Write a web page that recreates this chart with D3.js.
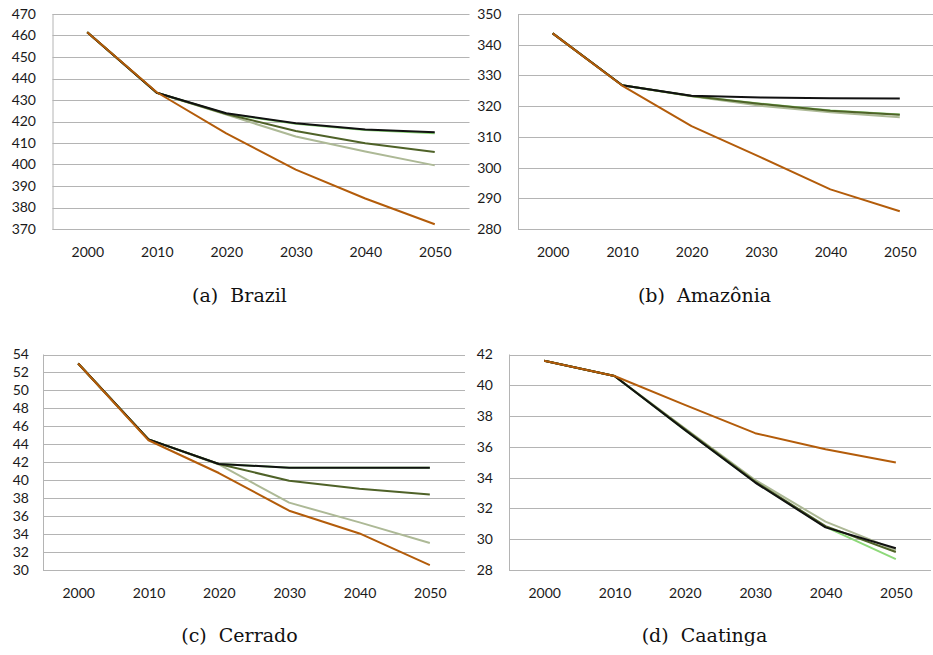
<!DOCTYPE html>
<html>
<head>
<meta charset="utf-8">
<script src="https://cdn.jsdelivr.net/npm/d3@7"></script>
<style>
  html, body { margin: 0; padding: 0; background: #fff; }
  svg { display: block; }
  .tick text { font-family: Lato, "Open Sans", sans-serif; font-size: 14px; fill: #1a1a1a; }
  .caption { font-family: "DejaVu Serif", serif; font-size: 19px; fill: #111; white-space: pre; }
</style>
</head>
<body>
<svg id="chart" width="933" height="655"></svg>
<script>
// ---- data ----
const years = ["2000", "2010", "2020", "2030", "2040", "2050"];
const seriesNames = ["sage", "green", "olive", "black", "orange"];

const brazilSage   = [461.5, 433.4, 423.2, 413.0, 406.0, 399.6];
const brazilGreen  = [461.5, 433.4, 423.6, 419.0, 416.0, 414.5];
const brazilOlive  = [461.5, 433.4, 423.5, 415.6, 409.9, 405.8];
const brazilBlack  = [461.5, 433.4, 423.8, 419.2, 416.3, 415.0];
const brazilOrange = [461.5, 433.6, 414.5, 397.6, 384.2, 372.2];

const amazSage   = [343.7, 326.8, 323.2, 320.1, 318.0, 316.4];
const amazGreen  = [343.7, 326.8, 323.3, 320.8, 318.6, 317.3];
const amazOlive  = [343.7, 326.8, 323.3, 320.7, 318.5, 317.2];
const amazBlack  = [343.7, 326.8, 323.4, 322.8, 322.6, 322.5];
const amazOrange = [343.7, 326.7, 313.5, 303.3, 292.9, 285.8];

const cerrSage   = [53.0, 44.55, 41.75, 37.5, 35.3, 33.0];
const cerrGreen  = [53.0, 44.55, 41.8, 41.4, 41.4, 41.4];
const cerrOlive  = [53.0, 44.55, 41.8, 39.95, 39.05, 38.4];
const cerrBlack  = [53.0, 44.55, 41.8, 41.4, 41.4, 41.4];
const cerrOrange = [53.0, 44.45, 40.8, 36.6, 34.07, 30.55];

const caatSage   = [41.6, 40.6, 37.2, 33.85, 31.14, 29.3];
const caatGreen  = [41.6, 40.6, 37.1, 33.7, 30.8, 28.71];
const caatOlive  = [41.6, 40.6, 37.15, 33.75, 30.85, 29.17];
const caatBlack  = [41.6, 40.6, 37.1, 33.68, 30.77, 29.41];
const caatOrange = [41.6, 40.6, 38.73, 36.89, 35.85, 34.98];

const brazilTicks = [370, 380, 390, 400, 410, 420, 430, 440, 450, 460, 470];
const amazTicks   = [280, 290, 300, 310, 320, 330, 340, 350];
const cerrTicks   = [30, 32, 34, 36, 38, 40, 42, 44, 46, 48, 50, 52, 54];
const caatTicks   = [28, 30, 32, 34, 36, 38, 40, 42];

const captions = ["(a)  Brazil", "(b)  Amazônia", "(c)  Cerrado", "(d)  Caatinga"];

// ---- styles ----
const colors = { sage: "#adb996", green: "#8ed97a", olive: "#4f6228", black: "#111111", orange: "#b35c0a" };

const panels = [
  { series: [brazilSage, brazilGreen, brazilOlive, brazilBlack, brazilOrange], ticks: brazilTicks,
    left: 52.5, right: 469.5, top: 14, bottom: 229, labelGap: 16.5, capX: 239.5, capY: 302 },
  { series: [amazSage, amazGreen, amazOlive, amazBlack, amazOrange], ticks: amazTicks,
    left: 518, right: 934.5, top: 14, bottom: 229, labelGap: 16.5, capX: 704.5, capY: 302 },
  { series: [cerrSage, cerrGreen, cerrOlive, cerrBlack, cerrOrange], ticks: cerrTicks,
    left: 43, right: 465, top: 354.5, bottom: 570, labelGap: 14, capX: 239.5, capY: 642 },
  { series: [caatSage, caatGreen, caatOlive, caatBlack, caatOrange], ticks: caatTicks,
    left: 509, right: 931, top: 354.5, bottom: 570, labelGap: 16, capX: 704.5, capY: 642 }
];

const svg = d3.select("#chart");
const gridColor = "#b4b4b4";

panels.forEach((p, i) => {
  const g = svg.append("g");
  const x = d3.scalePoint().domain(years).range([p.left, p.right]).padding(0.5);
  const y = d3.scaleLinear().domain(d3.extent(p.ticks)).range([p.bottom, p.top]);

  // horizontal grid
  g.append("g").selectAll("line").data(p.ticks).join("line")
    .attr("x1", p.left).attr("x2", p.right)
    .attr("y1", d => Math.round(y(d)) + 0.5).attr("y2", d => Math.round(y(d)) + 0.5)
    .attr("stroke", gridColor).attr("stroke-width", 1);

  // y axis
  const ya = g.append("g").attr("transform", `translate(${p.left},0)`)
    .call(d3.axisLeft(y).tickValues(p.ticks).tickSize(0).tickPadding(p.labelGap).tickFormat(d3.format("d")));
  ya.select(".domain").attr("stroke", gridColor).attr("d", `M0.5,${p.top}V${p.bottom}`);

  // x axis
  const xa = g.append("g").attr("transform", `translate(0,${Math.round(p.bottom) + 0.5})`)
    .call(d3.axisBottom(x).tickSize(0).tickPadding(18));
  xa.select(".domain").attr("stroke", gridColor).attr("d", `M${p.left},0H${p.right}`);

  // lines
  const line = d3.line().x((d, j) => x(years[j])).y(d => y(d));
  p.series.forEach((vals, k) => {
    g.append("path").datum(vals)
      .attr("d", line)
      .attr("fill", "none")
      .attr("stroke", colors[seriesNames[k]])
      .attr("stroke-width", 2)
      .attr("stroke-linejoin", "round");
  });

  svg.append("text").attr("class", "caption")
    .attr("x", p.capX).attr("y", p.capY)
    .attr("text-anchor", "middle").text(captions[i]);
});
</script>
</body>
</html>
